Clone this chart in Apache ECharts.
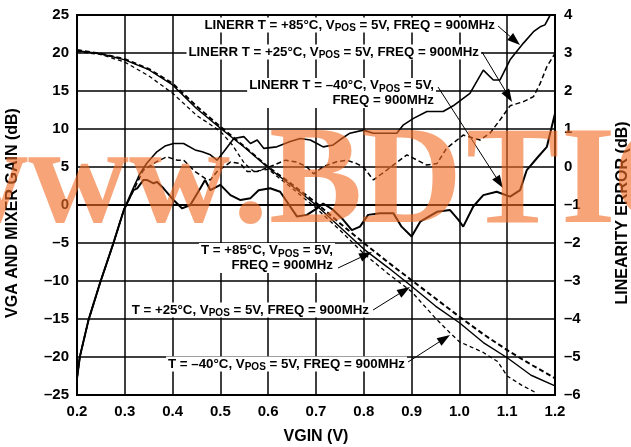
<!DOCTYPE html>
<html>
<head>
<meta charset="utf-8">
<script src="https://cdn.jsdelivr.net/npm/echarts@6/dist/echarts.min.js"></script>
<style>
html,body{margin:0;padding:0;background:#fff;overflow:hidden;}
#chart{width:631px;height:447px;}
</style>
</head>
<body>
<div id="chart"></div>
<script>
// ---------- data ----------
const xTicks = [0.2, 0.3, 0.4, 0.5, 0.6, 0.7, 0.8, 0.9, 1.0, 1.1, 1.2];
const gainTicks = [-25, -20, -15, -10, -5, 0, 5, 10, 15, 20, 25];
const errTicks = [-6, -5, -4, -3, -2, -1, 0, 1, 2, 3, 4];

// VGA and mixer gain (dB) vs VGIN (V)
const gainX   = [0.20, 0.25, 0.30, 0.35, 0.40, 0.45, 0.50, 0.55, 0.60, 0.65, 0.70, 0.75, 0.80, 0.85, 0.90, 0.95, 1.00, 1.05, 1.10, 1.15, 1.20];
const gainP85 = [20.4, 19.9, 19.2, 17.9, 16.0, 13.0, 10.3, 7.7, 5.0, 2.7, 0.3, -2.4, -5.0, -7.5, -9.9, -12.3, -14.7, -17.0, -19.1, -21.0, -22.8];
const gainP25 = [20.3, 19.9, 19.1, 17.8, 15.8, 12.7, 10.1, 7.6, 4.9, 2.5, 0.0, -2.9, -5.8, -8.2, -10.7, -13.3, -15.5, -18.1, -20.1, -22.4, -23.8];
const gainM40X = [0.20, 0.25, 0.30, 0.35, 0.40, 0.45, 0.50, 0.525, 0.55, 0.57, 0.60, 0.65, 0.70, 0.75, 0.80, 0.85, 0.90, 0.95, 0.98, 1.00, 1.05, 1.08, 1.10, 1.13, 1.16];
const gainM40  = [20.2, 19.8, 18.8, 17.0, 14.7, 11.8, 9.7, 7.9, 5.5, 4.4, 4.7, 2.2, -0.4, -3.3, -6.4, -9.0, -11.4, -14.9, -16.8, -18.0, -19.4, -20.6, -22.5, -23.7, -24.7];

// Linearity error (dB) vs VGIN (V)
const errP85X = [0.200, 0.206, 0.224, 0.248, 0.276, 0.298, 0.318, 0.332, 0.346, 0.367, 0.384, 0.402, 0.423, 0.447, 0.462, 0.479, 0.493, 0.507, 0.528, 0.549, 0.563, 0.577, 0.591, 0.618, 0.646, 0.667, 0.688, 0.702, 0.715, 0.736, 0.754, 0.771, 0.799, 0.820, 0.841, 0.869, 0.883, 0.904, 0.932, 0.966, 0.987, 1.022, 1.050, 1.071, 1.085, 1.106, 1.134, 1.155, 1.169, 1.179, 1.190];
const errP85  = [-5.56, -4.99, -4.03, -3.06, -2.01, -1.13, -0.55, -0.17, 0.10, 0.40, 0.55, 0.62, 0.62, 0.45, 0.40, 0.32, 0.18, 0.40, 0.75, 0.80, 0.62, 0.71, 0.49, 0.53, 0.67, 0.75, 0.71, 0.62, 0.53, 0.58, 0.75, 0.89, 0.97, 0.89, 0.89, 0.89, 1.11, 1.28, 1.46, 1.46, 1.61, 1.94, 2.55, 2.29, 2.29, 2.82, 3.26, 3.56, 3.69, 3.74, 4.00];

const errP25X = [0.200, 0.206, 0.224, 0.248, 0.276, 0.298, 0.318, 0.339, 0.367, 0.388, 0.409, 0.423, 0.447, 0.468, 0.479, 0.493, 0.521, 0.542, 0.556, 0.577, 0.612, 0.636, 0.660, 0.681, 0.695, 0.715, 0.743, 0.764, 0.785, 0.799, 0.820, 0.848, 0.890, 0.932, 0.953, 0.973, 1.008, 1.043, 1.064, 1.085, 1.106, 1.134, 1.155, 1.169, 1.183, 1.200];
const errP25  = [-5.56, -4.99, -4.03, -3.06, -2.01, -1.13, -0.62, -0.08, 0.14, 0.27, 0.18, 0.18, -0.12, -0.30, -0.34, -0.12, 0.13, 0.09, -0.12, -0.12, 0.05, 0.18, 0.13, 0.00, -0.18, 0.01, 0.14, 0.18, 0.09, 0.00, -0.34, -0.08, 0.32, 0.05, 0.09, 0.49, 0.84, 0.71, 0.89, 1.24, 1.61, 1.72, 1.85, 2.20, 2.64, 2.99];

const errM40X = [0.200, 0.206, 0.224, 0.248, 0.276, 0.298, 0.318, 0.326, 0.339, 0.346, 0.360, 0.367, 0.381, 0.402, 0.420, 0.437, 0.458, 0.468, 0.479, 0.500, 0.521, 0.542, 0.563, 0.580, 0.604, 0.625, 0.646, 0.660, 0.681, 0.702, 0.715, 0.736, 0.757, 0.775, 0.792, 0.809, 0.834, 0.862, 0.879, 0.900, 0.918, 0.953, 0.980, 0.998, 1.008, 1.029, 1.050, 1.078, 1.106, 1.127, 1.141, 1.162, 1.183, 1.200];
const errM40  = [-5.56, -4.99, -4.03, -3.06, -2.01, -1.13, -0.61, -0.56, -0.34, -0.34, -0.43, -0.39, -0.56, -0.87, -1.09, -1.00, -0.56, -0.34, -0.61, -0.47, -0.74, -0.87, -0.82, -0.61, -0.56, -0.65, -1.04, -1.30, -1.26, -1.09, -0.96, -1.13, -1.39, -1.66, -1.57, -1.26, -1.22, -1.22, -1.57, -1.83, -1.44, -1.18, -1.13, -1.39, -1.57, -1.04, -0.74, -0.65, -0.78, -0.61, -0.08, 0.23, 0.53, 1.41];

// ---------- helpers ----------
const zip = (xs, ys) => xs.map((x, i) => [x, ys[i]]);
const SANS = '"Liberation Sans", Arial, sans-serif';
const dashFmt = v => String(v).replace('-', '\u2013');

const chart = echarts.init(document.getElementById('chart'), null, {renderer: 'canvas'});

const labelStyle = {color: '#000', fontFamily: SANS, fontWeight: 'bold', fontSize: 15};
const nameStyle = {color: '#000', fontFamily: SANS, fontWeight: 'bold', fontSize: 16};

function line(name, data, yIdx, width, dash) {
  return {
    name, type: 'line', data, yAxisIndex: yIdx, showSymbol: false, symbol: 'none',
    animation: false, z: 3,
    lineStyle: {color: '#000', width, type: dash || 'solid'}
  };
}

chart.setOption({
  animation: false,
  backgroundColor: '#fff',
  grid: {left: 77, right: 76, top: 15, bottom: 52, show: true, borderColor: '#000', borderWidth: 2,
         backgroundColor: 'transparent', containLabel: false, outerBoundsMode: 'none'},
  xAxis: {
    type: 'value', min: xTicks[0], max: xTicks[xTicks.length - 1], interval: 0.1,
    axisLine: {show: true, lineStyle: {color: '#000', width: 2}},
    axisTick: {show: false},
    axisLabel: Object.assign({margin: 9, formatter: v => v.toFixed(1)}, labelStyle),
    splitLine: {show: true, lineStyle: {color: '#000', width: 1.5}},
    name: 'VGIN (V)', nameLocation: 'middle', nameGap: 34, nameTextStyle: nameStyle
  },
  yAxis: [{
    type: 'value', min: gainTicks[0], max: gainTicks[gainTicks.length - 1], interval: 5,
    axisLine: {show: true, lineStyle: {color: '#000', width: 2}},
    axisTick: {show: false},
    axisLabel: Object.assign({margin: 8, formatter: dashFmt}, labelStyle),
    splitLine: {show: true, lineStyle: {color: '#000', width: 1.5}},
    name: 'VGA AND MIXER GAIN (dB)', nameLocation: 'middle', nameGap: 56, nameRotate: 90,
    nameTextStyle: Object.assign({padding: [0, 16, 0, 0]}, nameStyle)
  }, {
    type: 'value', position: 'right', min: errTicks[0], max: errTicks[errTicks.length - 1], interval: 1,
    axisLine: {show: true, lineStyle: {color: '#000', width: 2}},
    axisTick: {show: false},
    axisLabel: Object.assign({margin: 9, formatter: dashFmt}, labelStyle),
    splitLine: {show: false},
    name: 'LINEARITY ERROR (dB)', nameLocation: 'middle', nameGap: 60, nameRotate: 90,
    nameTextStyle: Object.assign({padding: [0, 16, 0, 0]}, nameStyle)
  }],
  series: [
    line('Gain +85°C', zip(gainX, gainP85), 0, 2, [5, 3]),
    line('Gain +25°C', zip(gainX, gainP25), 0, 1.4),
    line('Gain −40°C', zip(gainM40X, gainM40), 0, 1.3, [4, 3]),
    line('LINERR +85°C', zip(errP85X, errP85), 1, 1.6),
    line('LINERR +25°C', zip(errP25X, errP25), 1, 1.5, [5, 3]),
    line('LINERR −40°C', zip(errM40X, errM40), 1, 2)
  ]
});

// ---------- annotations ----------
const ANN_FONT = 13.3;
const rich = {s: {fontSize: 10, fontWeight: 'bold', fontFamily: SANS, fill: '#000', padding: [7, 0, 0, 0]}};
const labels = [
  {t: 'LINERR T = +85°C, V{s|POS} = 5V, FREQ = 900MHz', x: 497, y: 25},
  {t: 'LINERR T = +25°C, V{s|POS} = 5V, FREQ = 900MHz', x: 481, y: 52},
  {t: 'LINERR T = \u201340°C, V{s|POS} = 5V,\nFREQ = 900MHz', x: 436, y: 93},
  {t: 'T = +85°C, V{s|POS} = 5V,\nFREQ = 900MHz', x: 335, y: 258},
  {t: 'T = +25°C, V{s|POS} = 5V, FREQ = 900MHz', x: 371, y: 310},
  {t: 'T = \u201340°C, V{s|POS} = 5V, FREQ = 900MHz', x: 407, y: 364}
];
// arrows: start (near label) -> tip (on curve), pixel layout
const arrows = [
  [498, 26, 520, 45],
  [482, 52, 512, 102],
  [438, 87, 503, 188],
  [338, 268, 372, 252],
  [373, 310, 410, 287],
  [408, 362, 450, 335]
];

const graphics = [];
labels.forEach(l => {
  graphics.push({
    type: 'text', z: 50, silent: true,
    style: {
      text: l.t, x: l.x, y: l.y, align: 'right', verticalAlign: 'middle',
      textAlign: 'right', textVerticalAlign: 'middle',
      fontSize: ANN_FONT, fontWeight: 'bold', fontFamily: SANS, fill: '#000',
      lineHeight: 15, rich, backgroundColor: '#fff', padding: [0, 2, 0, 2]
    }
  });
});
arrows.forEach(a => {
  const [x1, y1, x2, y2] = a;
  const dx = x2 - x1, dy = y2 - y1, len = Math.hypot(dx, dy);
  const ux = dx / len, uy = dy / len, L = 13, W = 4.5;
  const bx = x2 - ux * L, by = y2 - uy * L;
  graphics.push({type: 'line', z: 51, silent: true, shape: {x1, y1, x2: bx, y2: by}, style: {stroke: '#000', lineWidth: 1}});
  graphics.push({type: 'polygon', z: 51, silent: true,
    shape: {points: [[x2, y2], [bx - uy * W, by + ux * W], [bx + uy * W, by - ux * W]]},
    style: {fill: '#000'}});
});
// watermark, letter by letter to follow the reference spacing
const wmPieces = ['w', 'w', 'w', '.', 'B', 'D', 'T', 'I', 'C'];
const wmX = [-73, 28, 129, 233, 269, 361, 466, 561, 612];
wmPieces.forEach((ch, i) => {
  graphics.push({
    type: 'text', z: 100, silent: true, x: wmX[i], y: 186,
    style: {
      text: ch, x: 0, y: 0, align: 'left', verticalAlign: 'middle',
      textAlign: 'left', textVerticalAlign: 'middle',
      font: 'bold 140px "Liberation Serif", "Times New Roman", serif',
      fill: 'rgba(242,110,37,0.62)'
    }
  });
});
chart.setOption({graphic: {elements: graphics}});
</script>
</body>
</html>
